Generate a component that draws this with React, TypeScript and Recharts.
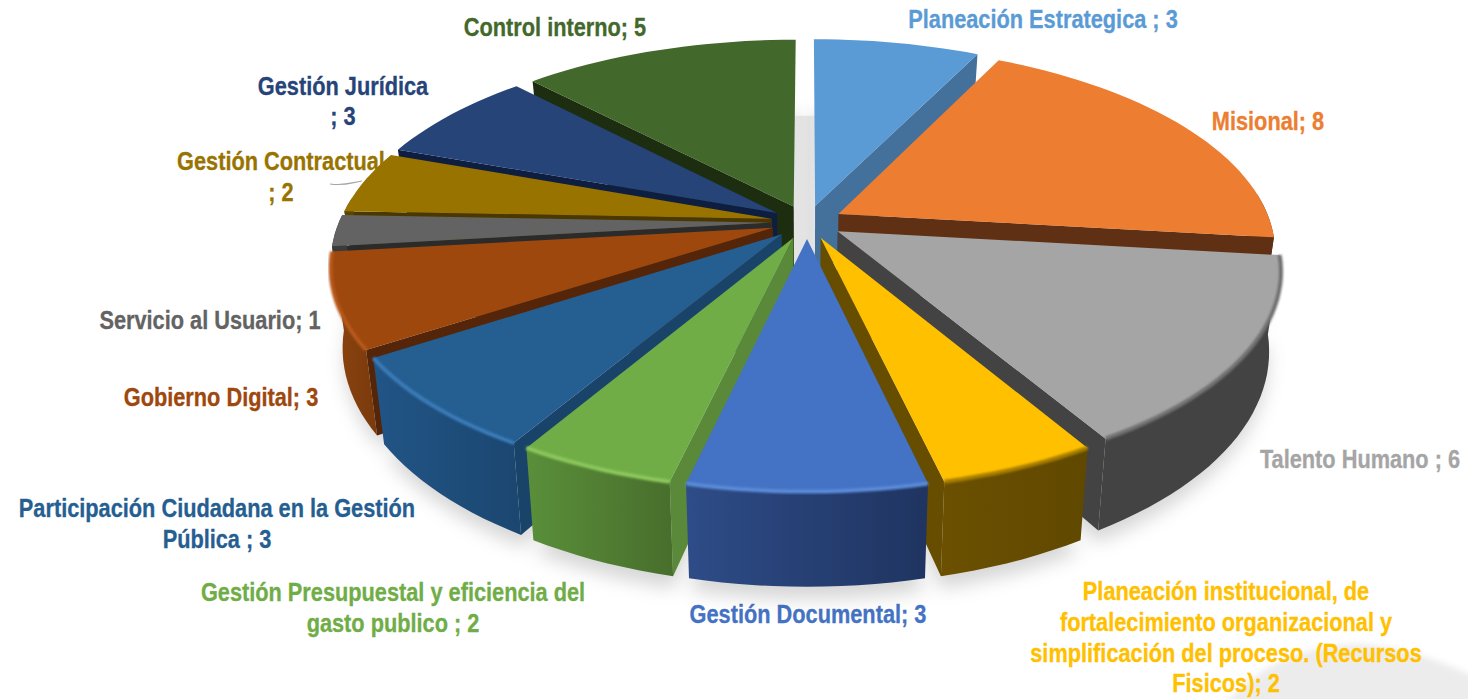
import React from 'react';
import { PieChart, Pie } from 'recharts';

const names = [
  'Planeación Estrategica', 'Misional', 'Talento Humano', 'Planeación institucional',
  'Gestión Documental', 'Gestión Presupuestal', 'Participación Ciudadana', 'Gobierno Digital',
  'Servicio al Usuario', 'Gestión Contractual', 'Gestión Jurídica', 'Control interno',
];
const values = [3, 8, 6, 2, 3, 2, 3, 3, 1, 2, 3, 5];

const topColors = ['#5b9bd5', '#ed7d31', '#a5a5a5', '#ffc000', '#4472c4', '#70ad47', '#255e91', '#9e480e', '#636363', '#997300', '#264478', '#43682b'];
const wallColors = ['#43719c', '#5f3014', '#434343', '#664d00', '#1f3864', '#5a8a39', '#1a436a', '#542508', '#2b2b2b', '#4a3800', '#0e1e40', '#1d2d10'];
const sideLeft = ['#43719c', '#5f3014', '#434343', '#6b5000', '#2e4c88', '#5a8f3a', '#215586', '#8c4410', '#3b3b3b', '#5c4500', '#16294a', '#28401a'];
const sideRight = ['#43719c', '#5f3014', '#434343', '#604800', '#1f3460', '#486e2c', '#1b4670', '#7a3a0c', '#3b3b3b', '#5c4500', '#16294a', '#28401a'];
const rimColors = [null, null, '#6f6f6f', '#a67d00', '#5a8ad8', '#8cc85c', '#3a7cb8', '#b8581a', null, null, null, null];

const labels: { color: number; lines: [string, number, number][] }[] = [
  { color: 11, lines: [['Control interno; 5', 555, 36]] },
  { color: 0, lines: [['Planeación Estrategica ; 3', 1043, 28]] },
  { color: 1, lines: [['Misional; 8', 1268, 130]] },
  { color: 2, lines: [['Talento Humano ; 6', 1360, 468]] },
  { color: 3, lines: [['Planeación institucional, de', 1226, 600], ['fortalecimiento organizacional y', 1226, 631], ['simplificación del proceso. (Recursos', 1226, 662], ['Fisicos); 2', 1226, 692]] },
  { color: 4, lines: [['Gestión Documental; 3', 808, 623]] },
  { color: 5, lines: [['Gestión Presupuestal y eficiencia del', 393, 601], ['gasto publico ; 2', 393, 632]] },
  { color: 6, lines: [['Participación Ciudadana en la Gestión', 217, 517], ['Pública ; 3', 217, 548]] },
  { color: 7, lines: [['Gobierno Digital; 3', 221, 406]] },
  { color: 8, lines: [['Servicio al Usuario; 1', 210, 329]] },
  { color: 9, lines: [['Gestión Contractual', 281, 170], ['; 2', 281, 201]] },
  { color: 10, lines: [['Gestión Jurídica', 343, 95], ['; 3', 343, 125]] },
];

const data = names.map((name, i) => ({ name, value: values[i] }));
const reversedData = [...data].reverse();

// pie seen from above: everything goes through this little projection
const DEPTH = 2450;
const TILT = 0.466;
const THICK = 77;
const EXPLODE = 36;
const toRad = (d: number) => (d * Math.PI) / 180;

const makeSlice = (layer: 'shadow' | 'left' | 'right') => (props: any) => {
  const name = props.payload?.name ?? props.name;
  const i = names.indexOf(name);
  const isRight = i <= 4;
  if ((layer === 'left' && isRight) || (layer === 'right' && !isRight)) return <g />;

  const { cx, cy, outerRadius: R } = props;
  let a1 = 90 - Math.max(props.startAngle, props.endAngle);
  let a2 = 90 - Math.min(props.startAngle, props.endAngle);
  if (a1 < 0) {
    a1 += 360;
    a2 += 360;
  }
  const mid = toRad((a1 + a2) / 2);
  const eu = EXPLODE * Math.sin(mid);
  const ev = EXPLODE * Math.cos(mid);

  const pt = (u: number, v: number, down: number) => {
    const s = DEPTH / (DEPTH + v);
    const k = 1 - 0.025 * (down / THICK);
    return [cx + u * s * k, cy - v * TILT * s + down * s];
  };
  const rim = (deg: number, down: number, ou = eu, ov = ev) =>
    pt(ou + R * Math.sin(toRad(deg)), ov + R * Math.cos(toRad(deg)), down);
  const arc = (from: number, to: number, down: number, ou = eu, ov = ev) => {
    const out = [];
    const n = Math.max(2, Math.ceil(Math.abs(to - from) / 2));
    for (let j = 0; j <= n; j++) out.push(rim(from + ((to - from) * j) / n, down, ou, ov));
    return out;
  };
  const toLine = (pts: number[][]) =>
    'M' + pts.map((p) => `${p[0].toFixed(1)},${p[1].toFixed(1)}`).join('L');
  const toPath = (pts: number[][]) => toLine(pts) + 'Z';
  const apex = (down: number) => pt(eu, ev, down);

  if (layer === 'shadow') {
    const bottom = [apex(THICK + 10), ...arc(a1, a2, THICK + 10)];
    // floor under the gaps: the same slice, not pulled out
    const floor = [pt(0, 0, THICK), ...arc(a1, a2, THICK, 0, 0)];
    return (
      <g>
        <path d={toPath(bottom)} fill="#000" fillOpacity={0.16} filter="url(#pieShadow)" />
        <path d={toPath(floor)} fill="#e3e3e3" stroke="#e3e3e3" />
      </g>
    );
  }

  // radial walls, only the ones facing the viewer
  const wall = (deg: number) => [apex(0), rim(deg, 0), rim(deg, THICK), apex(THICK)];
  const showStart = Math.sin(toRad(a1)) < -0.001;
  const showEnd = Math.sin(toRad(a2)) > 0.001;

  // curved outer wall, front part of the rim only
  let outer = null;
  const lo = Math.max(a1, 84);
  const hi = Math.min(a2, 276);
  if (hi > lo) outer = toPath([...arc(lo, hi, 0), ...arc(hi, lo, THICK)]);

  const top = toPath([apex(0), ...arc(a1, a2, 0)]);

  return (
    <g>
      <defs>
        <linearGradient id={`side${i}`} x1="0" y1="0" x2="1" y2="0">
          <stop offset="0" stopColor={sideLeft[i]} />
          <stop offset="1" stopColor={sideRight[i]} />
        </linearGradient>
      </defs>
      {showStart && <path d={toPath(wall(a1))} fill={wallColors[i]} />}
      {showEnd && <path d={toPath(wall(a2))} fill={wallColors[i]} />}
      {outer && <path d={outer} fill={`url(#side${i})`} />}
      <path d={top} fill={topColors[i]} />
      {rimColors[i] && (
        <path
          d={toLine(arc(Math.max(a1, 90), Math.min(a2, 270), 0))}
          fill="none"
          stroke={rimColors[i] as string}
          strokeWidth={4}
          filter="url(#rimBlur)"
        />
      )}
    </g>
  );
};

const pieProps = {
  dataKey: 'value',
  cx: 807,
  cy: 222,
  outerRadius: 432,
  innerRadius: 0,
  stroke: 'none',
  label: false,
  labelLine: false,
  isAnimationActive: false,
};

export default function App() {
  return (
    <div style={{ position: 'absolute', left: 0, top: 0, width: 1468, height: 699, overflow: 'hidden', background: '#fff' }}>
      <PieChart width={1468} height={699} margin={{ top: 0, right: 0, bottom: 0, left: 0 }}>
        <defs>
          <filter id="pieShadow" x="-20%" y="-20%" width="140%" height="140%">
            <feGaussianBlur stdDeviation="9" />
          </filter>
          <filter id="rimBlur" x="-5%" y="-30%" width="110%" height="160%">
            <feGaussianBlur stdDeviation="1.2" />
          </filter>
          <filter id="cornerBlur" x="-10%" y="-20%" width="120%" height="140%">
            <feGaussianBlur stdDeviation="3" />
          </filter>
        </defs>
        {/* faint smudge in the bottom right corner of the original image */}
        <path
          d="M1225,705 C1262,658 1325,640 1372,645 C1412,650 1450,664 1480,680 L1480,705 Z"
          fill="#ececec"
          filter="url(#cornerBlur)"
        />
        <Pie {...pieProps} data={data} startAngle={90} endAngle={-270} shape={makeSlice('shadow')} />
        <Pie {...pieProps} data={reversedData} startAngle={90} endAngle={450} shape={makeSlice('left')} />
        <Pie {...pieProps} data={data} startAngle={90} endAngle={-270} shape={makeSlice('right')} />
        <path d="M330,184 C345,186 350,183 362,181" fill="none" stroke="#a6a6a6" strokeWidth={1.2} />
        {labels.map((l) =>
          l.lines.map(([text, x, y]) => (
            <text
              key={text}
              transform={`translate(${x},${y}) scale(0.87,1)`}
              textAnchor="middle"
              fill={topColors[l.color]}
              stroke={topColors[l.color]}
              strokeWidth={0.3}
              fontFamily="'Liberation Sans', sans-serif"
              fontWeight="bold"
              fontSize={25}
            >
              {text}
            </text>
          ))
        )}
      </PieChart>
    </div>
  );
}
